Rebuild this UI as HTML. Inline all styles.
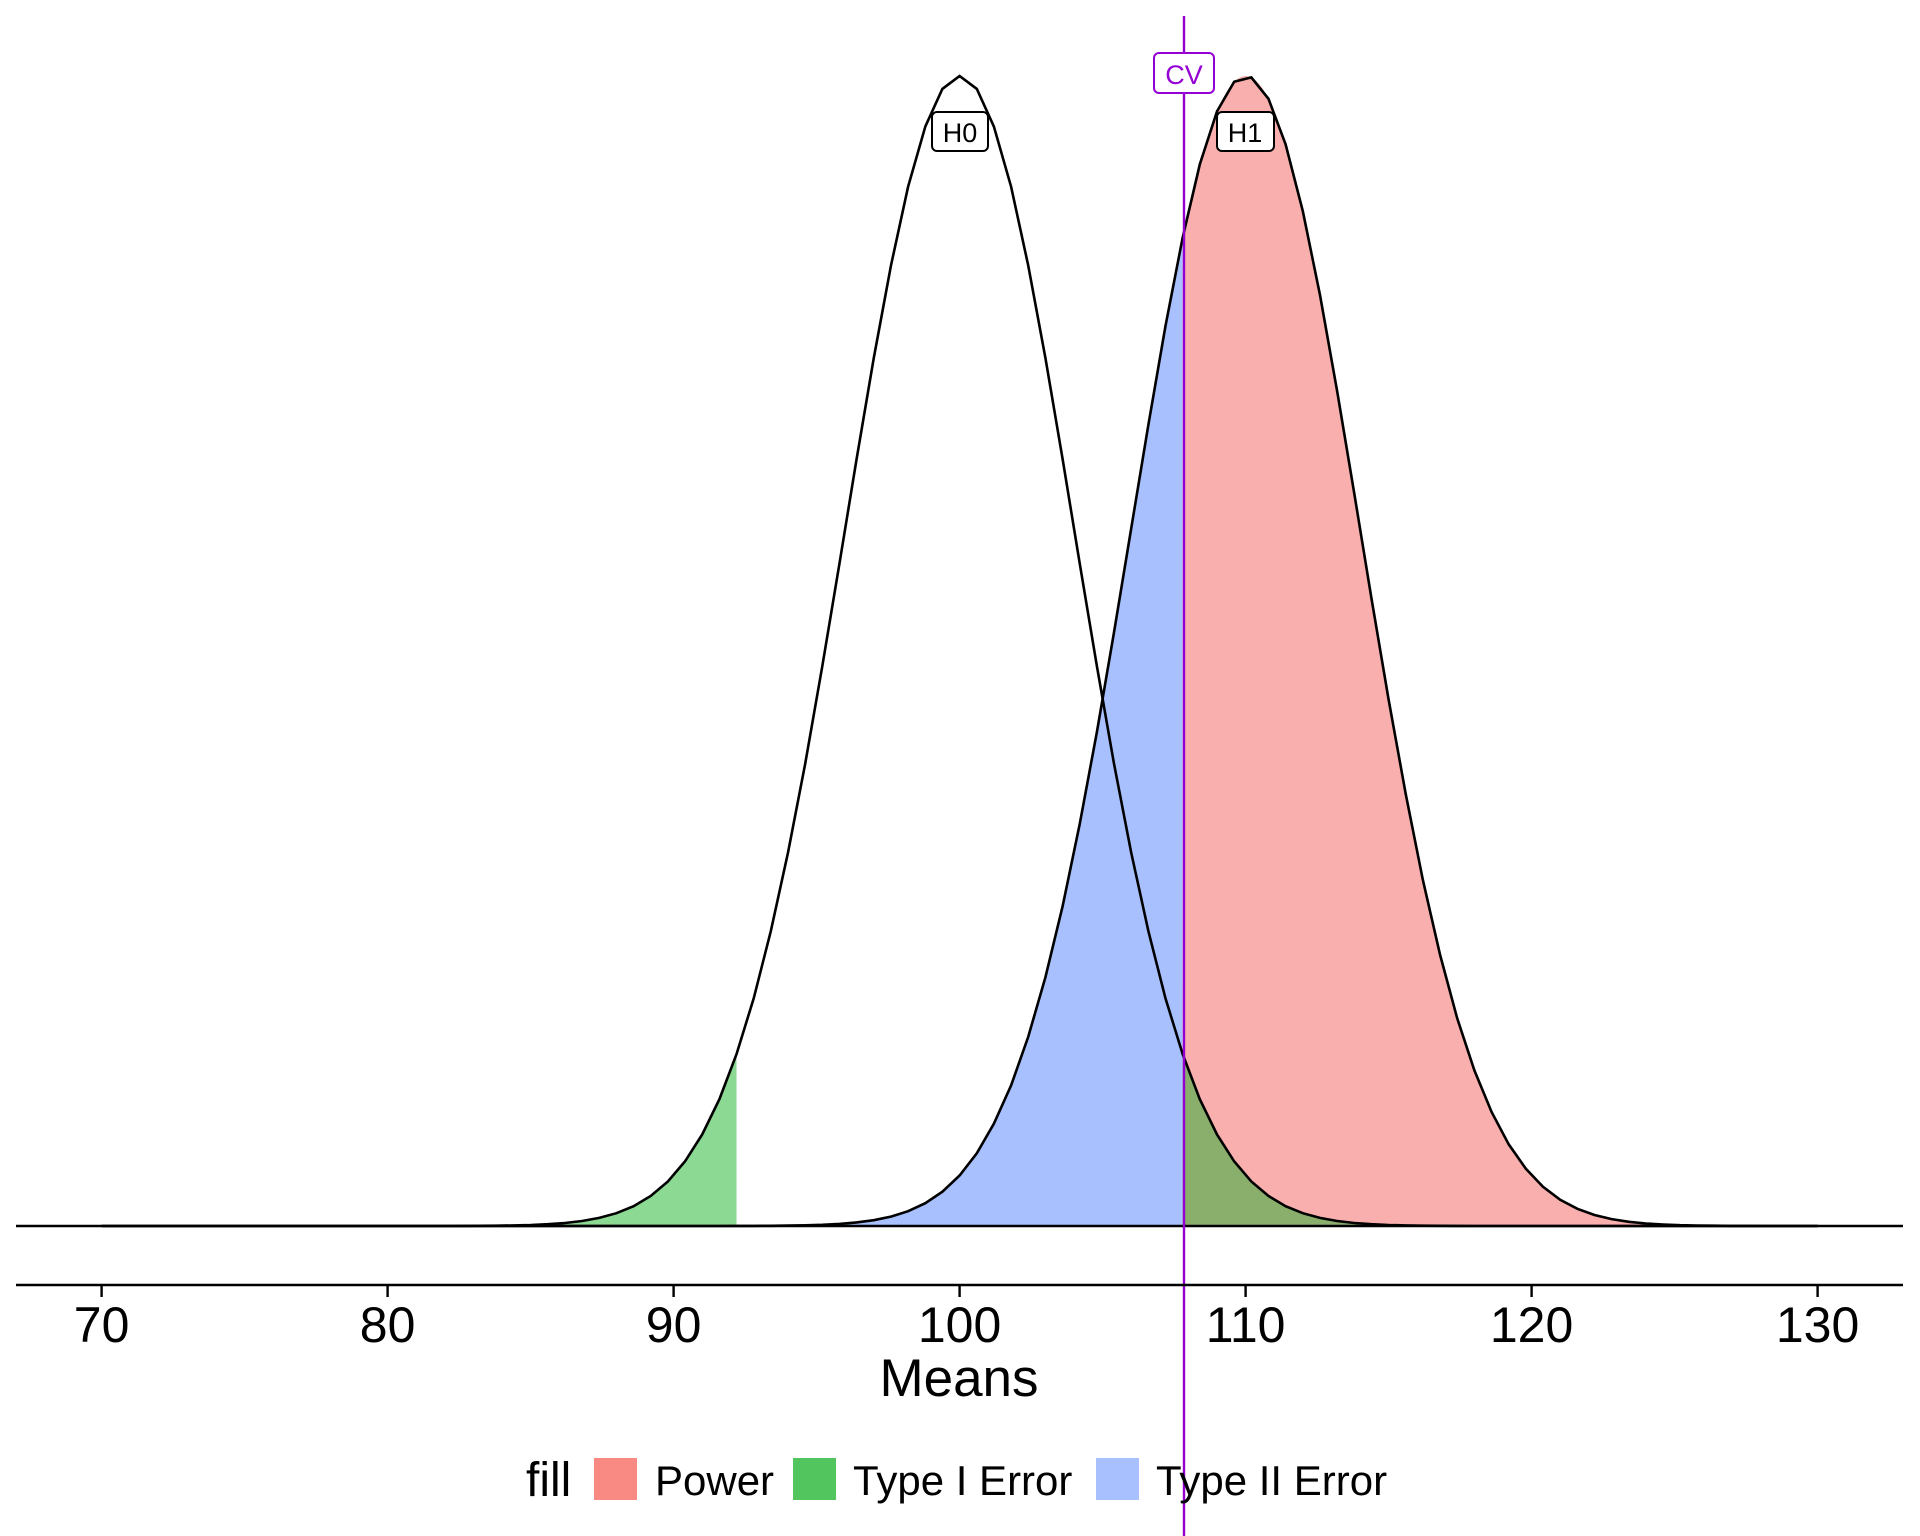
<!DOCTYPE html>
<html><head><meta charset="utf-8"><style>
html,body{margin:0;padding:0;background:#fff}
svg{display:block;font-family:"Liberation Sans",sans-serif}
</style></head><body>
<svg id="s" width="1920" height="1536" viewBox="0 0 1920 1536" xmlns="http://www.w3.org/2000/svg">
<g id="fills"></g>
<line x1="16" y1="1226" x2="1903" y2="1226" stroke="#000" stroke-width="2.4"/>
<g id="lines"></g>
<line x1="1184" y1="16" x2="1184" y2="1536" stroke="#9400D3" stroke-width="2.4"/>
<line x1="16" y1="1285" x2="1903" y2="1285" stroke="#000" stroke-width="2.4"/>
<g stroke="#000" stroke-width="2.4" id="ticks"></g>
<g font-size="50" text-anchor="middle" fill="#000" id="tl"></g>
<text x="959" y="1396" font-size="53" text-anchor="middle">Means</text>
<rect x="932" y="112" width="56" height="39" rx="5" fill="#fff" stroke="#000" stroke-width="2"/>
<text x="960" y="142" font-size="27" text-anchor="middle">H0</text>
<rect x="1217" y="112" width="57" height="39" rx="5" fill="#fff" stroke="#000" stroke-width="2"/>
<text x="1245" y="142" font-size="27" text-anchor="middle">H1</text>
<rect x="1154" y="53" width="60" height="40" rx="5" fill="#fff" stroke="#9400D3" stroke-width="2"/>
<text x="1184" y="84" font-size="27" text-anchor="middle" fill="#9400D3">CV</text>
<text x="526" y="1496" font-size="48">fill</text>
<rect x="594" y="1458" width="43" height="42" fill="#F8766D" opacity="0.85"/>
<text x="655" y="1495" font-size="42">Power</text>
<rect x="793" y="1458" width="43" height="42" fill="#53C55F"/>
<text x="853" y="1495" font-size="42">Type I Error</text>
<rect x="1096" y="1458" width="43" height="42" fill="#A8C1FE"/>
<text x="1156" y="1495" font-size="42">Type II Error</text>
</svg>
<script>
const X=v=>101.6+(v-70)*28.6, B=1226, H=1150;
const Y=(v,m)=>B-H*Math.exp(-(v-m)*(v-m)/32);
function area(a,b,m){let d=`M${X(a)},${B}`;for(let v=a;v<=b+1e-9;v+=0.1)d+=` L${X(v).toFixed(1)},${Y(v,m).toFixed(1)}`;d+=` L${X(b).toFixed(1)},${Y(b,m).toFixed(1)} L${X(b)},${B} Z`;return d}
function line(a,b,m){let d='';for(let v=a;v<=b+1e-9;v+=0.6)d+=(d?' L':'M')+X(v).toFixed(1)+','+Y(v,m).toFixed(1);return d}
const cv=107.8,lo=92.2;
const f=document.getElementById('fills');
f.innerHTML=`<path d="${area(70,cv,110)}" fill="#A8C1FE"/>
<path d="${area(cv,130,110)}" fill="#F8AFAE"/>
<path d="${area(70,lo,100)}" fill="#8BD992"/>
<path d="${area(cv,130,100)}" fill="#8AAF6C"/>`;
document.getElementById('lines').innerHTML=`<path d="${line(70,130,100)}" fill="none" stroke="#000" stroke-width="2.6"/>
<path d="${line(70,130,110)}" fill="none" stroke="#000" stroke-width="2.6"/>`;
let t='',l='';for(let v=70;v<=130;v+=10){t+=`<line x1="${X(v)}" y1="1285" x2="${X(v)}" y2="1297"/>`;l+=`<text x="${X(v)}" y="1342">${v}</text>`}
document.getElementById('ticks').innerHTML=t;document.getElementById('tl').innerHTML=l;
</script>
</body></html>
